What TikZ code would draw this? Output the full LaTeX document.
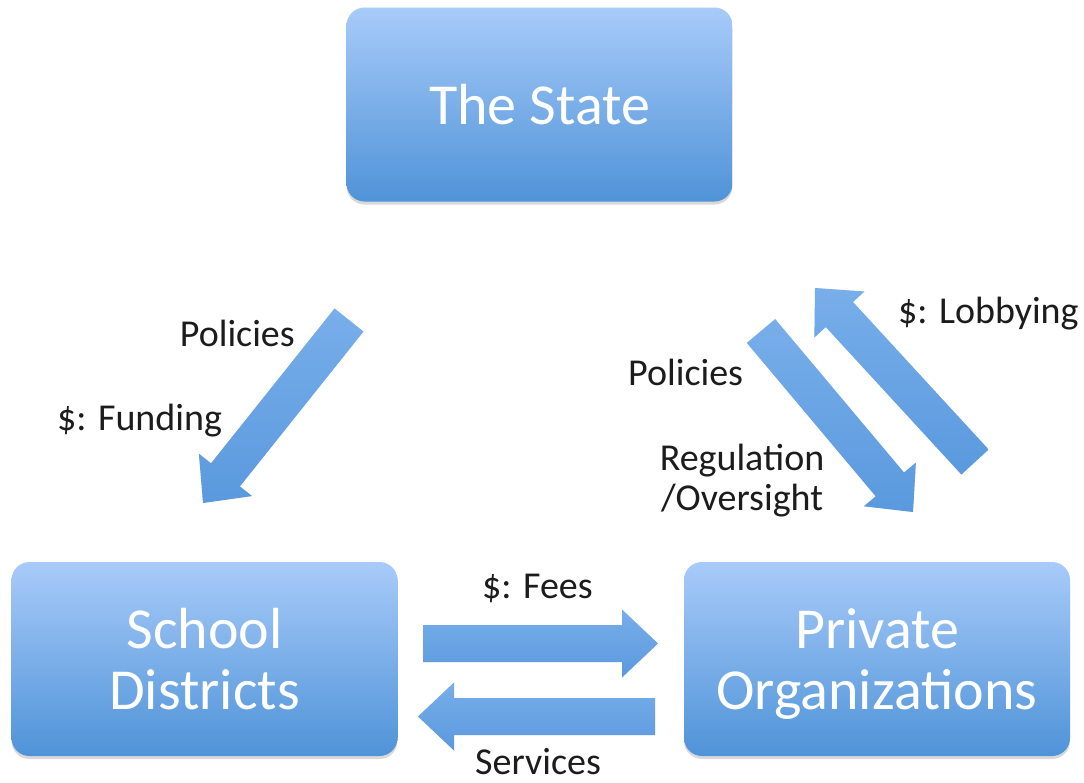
\documentclass[tikz,border=0pt]{standalone}
\usepackage{fontspec}
\setmainfont{Carlito}
\usetikzlibrary{calc,shadows}

\definecolor{boxtop}{HTML}{A8CBF9}
\definecolor{boxbottom}{HTML}{4F93D8}
\definecolor{arrowtop}{HTML}{78AEEA}
\definecolor{arrowmid}{HTML}{A3C9F5}
\definecolor{arrowbottom}{HTML}{5A99DE}
\definecolor{labelink}{HTML}{1C1C1C}

\tikzset{
  entity/.style={rounded corners=18pt, minimum width=386pt, minimum height=194pt,
    inner sep=0pt, top color=boxtop, bottom color=boxbottom, draw=none,
    text=white, align=center, text depth=0pt,
    font=\fontsize{58}{61}\selectfont,
    drop shadow={shadow xshift=0pt, shadow yshift=-3pt, opacity=0.15, fill=black}},
  lbl/.style={inner sep=0pt, text=labelink, font=\fontsize{38}{40}\selectfont},
  arrowbody/.style={top color=arrowtop, middle color=arrowmid, bottom color=arrowbottom, draw=none},
  arrowshadow/.style={fill=black, opacity=0.10}
}

% block arrow from a tail coordinate (#2) to a tip coordinate (#3)
\newcommand\blockarrow[3][]{%
  \path let \p1=($(#3)-(#2)$), \n1={atan2(\y1,\x1)}, \n2={veclen(\x1,\y1)} in
    \pgfextra{\xdef\arrowangle{\n1}\xdef\arrowlen{\n2}};
  \begin{scope}[yshift=-3pt, shift={(#2)}, rotate=\arrowangle]
    \fill[arrowshadow] (0pt,-18.5pt) -- ({\arrowlen-36pt},-18.5pt) -- ({\arrowlen-36pt},-34pt)
      -- ({\arrowlen},0pt) -- ({\arrowlen-36pt},34pt) -- ({\arrowlen-36pt},18.5pt)
      -- (0pt,18.5pt) -- cycle;
  \end{scope}
  \begin{scope}[shift={(#2)}, rotate=\arrowangle]
    \shade[arrowbody,#1] (0pt,-18.5pt) -- ({\arrowlen-36pt},-18.5pt) -- ({\arrowlen-36pt},-34pt)
      -- ({\arrowlen},0pt) -- ({\arrowlen-36pt},34pt) -- ({\arrowlen-36pt},18.5pt)
      -- (0pt,18.5pt) -- cycle;
  \end{scope}}

\begin{document}
\begin{tikzpicture}[x=1pt,y=-1pt]
  \useasboundingbox[fill=white] (0,0) rectangle (1084,782);

  % the three parties
  \node[entity] (state)   at (539.5,104.5) {The State};
  \node[entity] (school)  at (204.5,659)   {School\\Districts};
  \node[entity] (private) at (877,659)     {Private\\Organizations};

  % arrow end points
  \coordinate (fundTail) at (349,320);
  \coordinate (fundTip)  at (203,503);
  \coordinate (regTail)  at (761,331);
  \coordinate (regTip)   at (913,512);
  \coordinate (lobTail)  at (975,462);
  \coordinate (lobTip)   at (815,288);
  \coordinate (feeTail)  at (423,643.5);
  \coordinate (feeTip)   at (658,643.5);
  \coordinate (svcTail)  at (655,716.5);
  \coordinate (svcTip)   at (418,716.5);

  \blockarrow{fundTail}{fundTip}
  \blockarrow{regTail}{regTip}
  \blockarrow{lobTail}{lobTip}
  \blockarrow{feeTail}{feeTip}
  \blockarrow{svcTail}{svcTip}

  % flow labels
  \node[lbl, anchor=base east] (lblPolL) at (295,346) {Policies};
  \node[lbl, anchor=base west] (lblFund) at (57,430)  {\$: Funding};
  \node[lbl, anchor=base west] (lblPolR) at (628,385) {Policies};
  \node[lbl, align=center]     (lblReg)  at (742,481) {Regulation\\/Oversight};
  \node[lbl, anchor=base west] (lblLob)  at (898,323) {\$: Lobbying};
  \node[lbl, anchor=base west] (lblFee)  at (482,598) {\$: Fees};
  \node[lbl, anchor=base west] (lblSvc)  at (475,774) {Services};
\end{tikzpicture}
\end{document}
